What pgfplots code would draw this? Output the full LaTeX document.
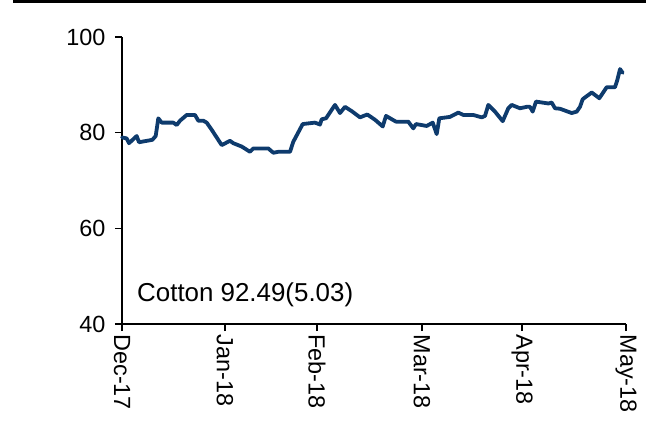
\documentclass[border=0pt]{standalone}
\usepackage{pgfplots}
\pgfplotsset{compat=1.18}
\usepackage{fontspec}
\setmainfont{Liberation Sans}
\definecolor{navy}{RGB}{14,59,109}
\begin{document}
\begin{tikzpicture}
\path[use as bounding box] (-122bp,-109bp) rectangle (524bp,324bp);
\fill[black] (-109bp,321bp) rectangle (524bp,324bp);
\begin{axis}[
  width=504bp, height=287bp, scale only axis,
  xmin=0, xmax=504, ymin=40, ymax=100,
  axis lines=left, axis line style={-, line width=1.6bp, black},
  tick align=outside, major tick length=7bp,
  tick style={line width=1.3bp, black},
  ytick={40,60,80,100},
  xtick={0,103,195,300,400,504},
  xticklabels={Dec-17,Jan-18,Feb-18,Mar-18,Apr-18,May-18},
  x tick label style={rotate=-90, anchor=west},
  y tick label style={xshift=-6bp},
  tick label style={font=\fontsize{23.5}{28}\selectfont},
  /pgf/number format/assume math mode=true,
  clip=false,
]
\addplot[navy, line width=3.8bp, line join=round, line cap=round] coordinates {
(0,79.0) (4.7,78.8) (7,77.8) (14.7,79.3) (17,78.0) (30.3,78.5) (33.7,79.3)
(36.3,83.0) (39.7,82.1) (51.3,82.1) (54.7,81.6) (58,82.5) (64.7,83.7) (73,83.7)
(76.3,82.5) (81.3,82.5) (84.7,82.1) (89.7,80.6) (99.7,77.4) (108,78.3) (111.3,77.8)
(119.7,77.1) (128,76.0) (131.3,76.7) (146.3,76.7) (151.3,75.8) (156.3,76.0) (168,76.0)
(171.3,78.1) (180.7,81.8) (193,82.1) (198,81.7) (199.7,82.8) (204,83.0) (213,85.8)
(218,84.1) (223,85.4) (229.7,84.5) (238,83.2) (245.3,83.8) (253,82.7) (260.7,81.3)
(264,83.5) (274,82.3) (286.3,82.3) (291.3,80.9) (294,81.8) (304.7,81.4) (310.7,82.1)
(314.7,79.7) (317.3,83.0) (328,83.3) (336.3,84.2) (341.3,83.7) (351.3,83.7) (359.7,83.2)
(363,83.5) (366.3,85.8) (373,84.4) (380.7,82.4) (386.3,85.1) (389.7,85.8) (398,85.1)
(404.7,85.4) (408,85.4) (410.7,84.4) (414,86.5) (426.3,86.1) (429.7,86.3) (433,85.1)
(438,85.0) (449.7,84.1) (454.7,84.4) (458,85.4) (460.7,87.0) (469.7,88.4) (477.3,87.2)
(484.7,89.5) (493,89.5) (495.3,91.0) (498,93.3) (500.7,92.5)
};
\node[anchor=base west, font=\fontsize{26}{30}\selectfont, inner sep=0pt] at (axis cs:15,44.8) {Cotton 92.49(5.03)};
\end{axis}
\end{tikzpicture}
\end{document}
